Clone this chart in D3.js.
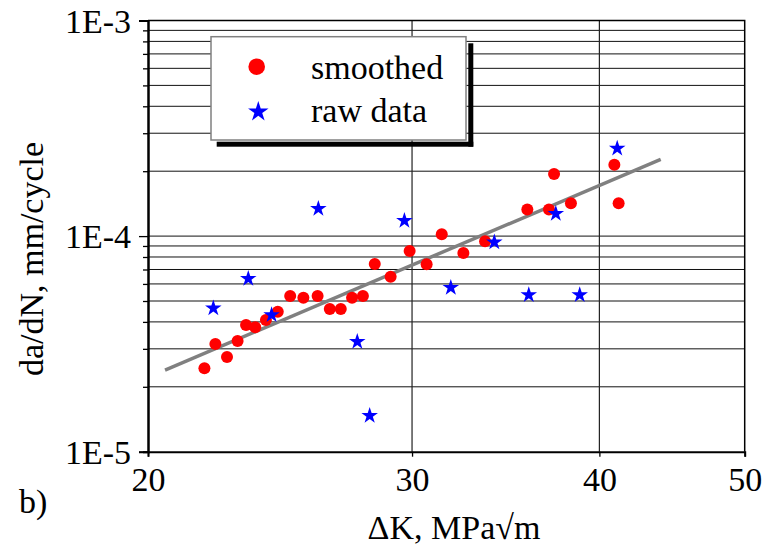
<!DOCTYPE html>
<html>
<head>
<meta charset="utf-8">
<script src="https://cdn.jsdelivr.net/npm/d3@7"></script>
<style>
  body { margin: 0; background: #fff; }
  #chart { width: 779px; height: 551px; }
  text { font-family: "Liberation Serif", "Times New Roman", serif; fill: #000; }
</style>
</head>
<body>
<div id="chart"></div>
<script>
// smoothed points (dK in MPa*sqrt(m), da/dN in mm/cycle)
const smoothK = [21.81, 22.18, 22.58, 22.95, 23.25, 23.58, 23.97, 24.41, 24.88, 25.39,
                 25.95, 26.44, 26.89, 27.36, 27.82, 28.33, 29.03, 29.89, 30.68, 31.40,
                 32.46, 33.56, 35.81, 37.02, 37.31, 38.29, 40.93, 41.20]
const smoothRate = [2.44e-5, 3.16e-5, 2.75e-5, 3.26e-5, 3.87e-5, 3.78e-5, 4.08e-5, 4.46e-5, 5.28e-5, 5.18e-5,
                    5.28e-5, 4.59e-5, 4.59e-5, 5.18e-5, 5.28e-5, 7.42e-5, 6.48e-5, 8.53e-5, 7.40e-5, 1.02e-4,
                    8.35e-5, 9.46e-5, 1.33e-4, 1.33e-4, 1.94e-4, 1.42e-4, 2.14e-4, 1.42e-4]

// raw data points
const rawK = [22.11, 23.33, 24.18, 25.98, 27.58, 28.11, 29.65, 31.84, 34.04, 35.89, 37.41, 38.81, 41.11]
const rawRate = [4.63e-5, 6.35e-5, 4.31e-5, 1.34e-4, 3.24e-5, 1.47e-5, 1.18e-4, 5.77e-5, 9.36e-5, 5.33e-5,
                 1.27e-4, 5.33e-5, 2.55e-4]

// power-law fit line, end points
const trendK = [20.53, 43.95]
const trendRate = [2.39e-5, 2.27e-4]

// axis ticks
const xTicks = [20, 30, 40, 50]
const xGrid = [30, 40]
const yMajor = [1e-5, 1e-4, 1e-3]
const yMinor = [2e-5, 3e-5, 4e-5, 5e-5, 6e-5, 7e-5, 8e-5, 9e-5,
                2e-4, 3e-4, 4e-4, 5e-4, 6e-4, 7e-4, 8e-4, 9e-4]
const legendItems = ["smoothed", "raw data"]

const margin = { top: 20.5, right: 34.3, bottom: 99.3, left: 148 }
const totalW = 779, totalH = 551
const width = totalW - margin.left - margin.right
const height = totalH - margin.top - margin.bottom

const svg = d3.select("#chart").append("svg")
    .attr("width", totalW)
    .attr("height", totalH)

const g = svg.append("g")
    .attr("transform", "translate(" + margin.left + "," + margin.top + ")")

const xScale = d3.scaleLog().domain([20, 50]).range([0, width])
const yScale = d3.scaleLog().domain([1e-5, 1e-3]).range([height, 0])

// grid
g.append("g").selectAll("line.hgrid")
    .data(yMinor.concat([1e-4]))
    .join("line")
    .attr("class", "hgrid")
    .attr("x1", 0).attr("x2", width)
    .attr("y1", d => yScale(d)).attr("y2", d => yScale(d))
    .style("stroke", "#111").style("stroke-width", 1)

g.append("g").selectAll("line.vgrid")
    .data(xGrid)
    .join("line")
    .attr("class", "vgrid")
    .attr("x1", d => xScale(d)).attr("x2", d => xScale(d))
    .attr("y1", 0).attr("y2", height)
    .style("stroke", "#222").style("stroke-width", 1.2)

// frame top/right
g.append("path")
    .attr("d", "M0,0H" + width + "V" + height)
    .style("fill", "none").style("stroke", "#000").style("stroke-width", 1.5)

// axes
const fmtE = d => "1E" + Math.round(Math.log10(d))

const yAxisMinor = d3.axisLeft(yScale).tickValues(yMinor).tickSize(5).tickFormat("")
const yAxisMajor = d3.axisLeft(yScale).tickValues(yMajor).tickSize(9).tickPadding(8).tickFormat(fmtE)
const xAxis = d3.axisBottom(xScale).tickValues(xTicks).tickSize(5).tickPadding(10).tickFormat(d3.format("d"))

const gyMin = g.append("g").call(yAxisMinor)
const gyMaj = g.append("g").call(yAxisMajor)
const gx = g.append("g").attr("transform", "translate(0," + height + ")").call(xAxis)

;[gyMin, gyMaj, gx].forEach(a => {
    a.select(".domain").style("stroke", "#000").style("stroke-width", 2)
    a.selectAll(".tick line").style("stroke", "#000").style("stroke-width", 1.3)
    a.selectAll(".tick text").style("font-size", "34px").style("font-family", "Liberation Serif, serif").style("fill", "#000")
})
gyMaj.selectAll(".tick text").attr("dy", "0.34em")
gx.selectAll(".tick text").attr("dy", "0.71em")

// trend line
const line = d3.line()
    .x(d => xScale(d[0]))
    .y(d => yScale(d[1]))

g.append("path")
    .datum(d3.zip(trendK, trendRate))
    .attr("d", line)
    .style("fill", "none")
    .style("stroke", "#808080")
    .style("stroke-width", 3.5)

// smoothed points
g.append("g").selectAll("circle.smooth")
    .data(d3.zip(smoothK, smoothRate))
    .join("circle")
    .attr("class", "smooth")
    .attr("cx", d => xScale(d[0]))
    .attr("cy", d => yScale(d[1]))
    .attr("r", 6)
    .style("fill", "#ff0000")

// raw stars
const star = d3.symbol().type(d3.symbolStar).size(85)
g.append("g").selectAll("path.raw")
    .data(d3.zip(rawK, rawRate))
    .join("path")
    .attr("class", "raw")
    .attr("transform", d => "translate(" + xScale(d[0]) + "," + yScale(d[1]) + ")")
    .attr("d", star)
    .style("fill", "#0000ff")

// legend
const legend = svg.append("g")
legend.append("rect")
    .attr("x", 468.3).attr("y", 43.3).attr("width", 5).attr("height", 103.4)
    .style("fill", "#000")
legend.append("rect")
    .attr("x", 216.7).attr("y", 141.7).attr("width", 256.6).attr("height", 5)
    .style("fill", "#000")
legend.append("rect")
    .attr("x", 211).attr("y", 36.7).attr("width", 255).attr("height", 103.3)
    .style("fill", "#fff").style("stroke", "#808080").style("stroke-width", 1.5)

legend.append("circle")
    .attr("cx", 256.7).attr("cy", 66.7).attr("r", 8.3)
    .style("fill", "#ff0000")
legend.append("path")
    .attr("transform", "translate(258.3,111.7)")
    .attr("d", d3.symbol().type(d3.symbolStar).size(130))
    .style("fill", "#0000ff")

legend.selectAll("text.leg")
    .data(legendItems)
    .join("text")
    .attr("class", "leg")
    .attr("x", 311)
    .attr("y", (d, i) => 78.5 + i * 43.5)
    .style("font-size", "34px")
    .text(d => d)

// axis titles
svg.append("text")
    .attr("x", 454).attr("y", 539)
    .style("text-anchor", "middle")
    .style("font-size", "34px")
    .text("\u0394K, MPa\u221Am")

svg.append("text")
    .attr("transform", "translate(43,259) rotate(-90)")
    .style("text-anchor", "middle")
    .style("font-size", "34px")
    .text("da/dN, mm/cycle")

svg.append("text")
    .attr("x", 19).attr("y", 513)
    .style("font-size", "34px")
    .text("b)")
</script>
</body>
</html>
